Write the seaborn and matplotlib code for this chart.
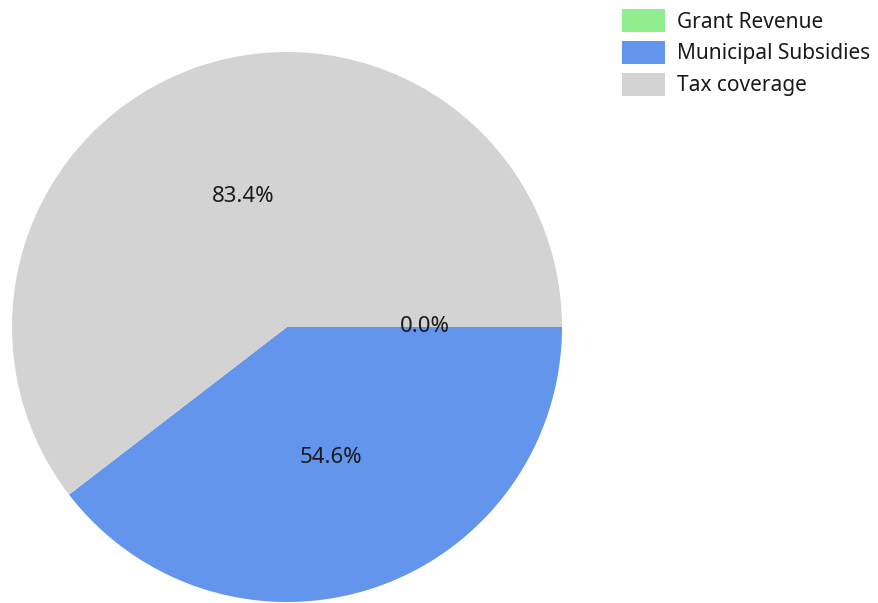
import matplotlib
matplotlib.use("Agg")
import matplotlib.pyplot as plt
import seaborn as sns

sns.set_theme(style="white")
plt.rcParams['font.family'] = ['Noto Sans', 'DejaVu Sans']

# values shown on the slices (the pie is drawn from them as-is)
categories = ['Grant Revenue', 'Municipal Subsidies', 'Tax coverage']
values = [0.0, 54.6, 83.4]
colors = ['#90EE90', '#6495ED', '#D3D3D3']

fig = plt.figure(figsize=(8.79, 6.03), dpi=100)
ax = fig.add_axes([12 / 879, 1 - 602 / 603, 550 / 879, 550 / 603])

vals_iter = iter(values)
wedges, texts, autotexts = ax.pie(
    values, colors=colors, startangle=0, counterclock=False,
    autopct=lambda p: '%.1f%%' % next(vals_iter),
    pctdistance=0.5, wedgeprops={'linewidth': 0},
    textprops={'fontsize': 16, 'color': '#1a1a1a'})
ax.set_aspect('equal')
ax.set_xlim(-1, 1)
ax.set_ylim(-1, 1)

leg = fig.legend(wedges, categories, loc='upper left',
                 bbox_to_anchor=(622 / 879, 1 - 9 / 603), frameon=False,
                 fontsize=15, handlelength=2.07, handleheight=1.33,
                 handletextpad=0.58, labelspacing=0.4,
                 borderpad=0, borderaxespad=0)
for t in leg.get_texts():
    t.set_color('#1a1a1a')

fig.savefig('out.png', dpi=100)
